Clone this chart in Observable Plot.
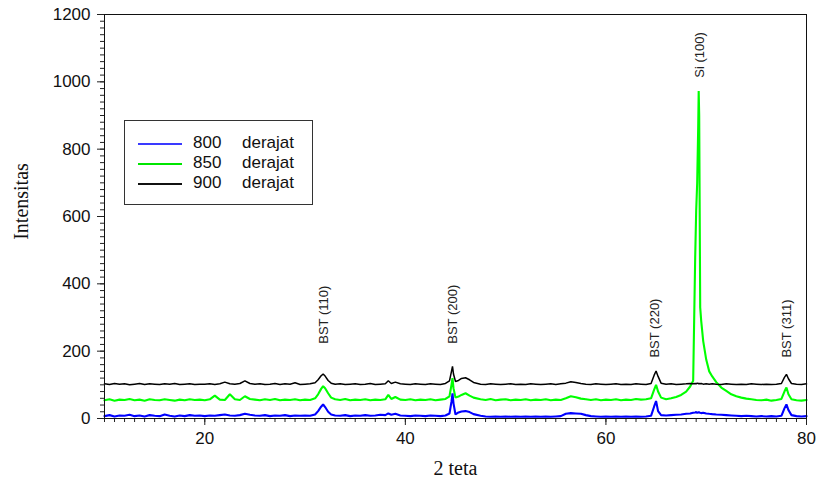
<!DOCTYPE html>
<html>
<head>
<meta charset="utf-8">
<script src="https://cdn.jsdelivr.net/npm/d3@7"></script>
<script src="https://cdn.jsdelivr.net/npm/@observablehq/plot@0.6"></script>
<style>
  html, body { margin: 0; padding: 0; background: #fff; }
  #wrap { position: relative; width: 816px; height: 487px; }
  #legend { position: absolute; left: 124px; top: 120px; width: 189px; height: 85px;
            border: 1px solid #333; background: #fff; box-sizing: border-box;
            font-family: "Liberation Sans", Arial, sans-serif; font-size: 17px; color: #111; }
  .lrow { position: absolute; left: 0; height: 20px; width: 100%; }
  .lline { position: absolute; left: 13px; width: 44px; top: 10px; height: 2px; }
  .lnum { position: absolute; left: 68px; top: 0; line-height: 20px; }
  .lunit { position: absolute; left: 117px; top: 0; line-height: 20px; }
</style>
</head>
<body>
<div id="wrap"></div>
<script>
// ---- data ----
const twoTheta = [
  10,10.5,11,11.5,12,12.5,13,13.5,14,14.5,15,15.5,16,16.5,17,17.5,18,18.5,19,19.5,
  20,20.5,21,21.5,22,22.5,23,23.5,24,24.5,25,25.5,26,26.5,27,27.5,28,28.5,29,29.5,
  30,30.5,31,31.3,31.6,31.8,32,32.3,32.6,33,33.5,34,34.5,35,35.5,36,36.5,37,37.5,38,
  38.3,38.6,39,39.5,40,40.5,41,41.5,42,42.5,43,43.5,44,44.4,44.6,44.7,44.8,45,45.3,45.6,
  46,46.4,46.8,47.5,48,48.5,49,49.5,50,50.5,51,51.5,52,52.5,53,53.5,54,54.5,55,55.5,
  56,56.5,57,57.5,58,58.5,59,59.5,60,60.5,61,61.5,62,62.5,63,63.5,64,64.5,64.8,65,
  65.2,65.5,66,66.5,67,67.5,68,68.4,68.7,68.9,69,69.1,69.2,69.25,69.3,69.4,69.5,69.7,70,70.3,
  70.6,71,71.5,72,72.5,73,73.5,74,74.5,75,75.5,76,76.5,77,77.5,77.8,78,78.2,78.5,79,
  79.5,80
];
const int800 = [
  7,10,6,9,8,11,7,9,6,10,8,7,12,8,6,9,7,10,8,9,
  7,9,8,10,12,9,8,10,14,11,9,8,10,7,9,8,10,7,9,8,
  9,8,12,22,35,42,34,20,12,9,8,10,7,9,8,10,8,9,11,10,
  15,11,14,9,8,7,9,8,7,9,8,7,9,15,50,75,45,12,18,21,
  22,19,13,8,6,5,6,5,6,5,6,5,6,5,6,5,6,5,6,7,
  14,16,15,14,10,7,6,5,6,5,6,5,6,5,6,5,6,8,35,52,
  22,10,9,10,11,12,14,15,17,18,19,17,18,20,18,17,16,17,15,14,
  13,12,11,10,9,8,7,8,7,6,7,6,7,6,8,30,42,25,10,7,
  6,7
];
const int850 = [
  54,57,53,56,55,58,54,56,53,57,55,54,57,55,53,56,54,57,55,56,
  54,57,68,56,55,72,57,55,66,58,56,54,57,55,58,54,56,55,57,54,
  56,55,60,72,88,96,90,75,62,57,55,58,54,56,55,57,54,56,55,57,
  70,58,64,56,55,57,54,56,55,57,54,56,58,66,100,120,90,62,65,70,
  75,68,62,57,55,58,54,56,57,54,56,55,57,54,56,55,57,54,56,55,
  60,66,63,59,57,55,57,54,56,55,57,54,56,55,58,56,57,60,85,100,
  80,62,57,60,64,70,80,95,112,478,617,700,864,973,900,330,290,230,175,140,
  125,108,92,82,72,66,62,59,57,55,54,56,53,55,58,80,92,72,57,54,
  53,55
];
const int900 = [
  103,101,104,102,103,100,102,104,101,103,102,101,103,102,104,101,102,103,101,102,
  102,103,101,103,108,103,102,104,112,104,102,103,101,102,104,101,103,102,106,101,
  102,103,106,115,127,132,126,113,105,102,103,101,102,103,101,102,104,101,102,103,
  112,104,108,103,102,101,103,102,101,103,102,101,104,112,140,155,132,110,113,119,
  121,115,107,102,101,103,102,101,102,103,101,102,101,103,102,101,102,103,101,103,
  105,109,107,104,102,101,103,102,101,102,103,101,102,101,103,102,101,104,128,141,
  125,105,102,103,101,102,103,104,103,104,103,105,104,103,104,103,104,102,103,102,
  103,102,101,103,102,101,102,101,103,102,101,102,101,102,104,122,131,118,104,102,
  101,103
];
const seriesNames = ["800", "850", "900"];
const seriesUnit = "derajat";
const seriesColors = ["#0000ff", "#00ff00", "#000000"];
const legendColors = ["#3a3aff", "#00e600", "#111111"];

const peakLabels = ["BST (110)", "BST (200)", "BST (220)", "Si (100)", "BST (311)"];
const peakX = [31.9, 44.7, 64.9, 69.35, 78.0];
const peakY = [222, 222, 181, 1012, 181];

const xTicks = [20, 40, 60, 80];
const yTicks = [0, 200, 400, 600, 800, 1000, 1200];
const xTitle = "2 teta";
const yTitle = "Intensitas";

// ---- tables ----
const seriesValues = [int800, int850, int900];
const curves = seriesNames.map((name, k) =>
  twoTheta.map((x, i) => ({x, y: seriesValues[k][i], series: name})));
const peaks = peakLabels.map((t, i) => ({text: t, x: peakX[i], y: peakY[i]}));

const drawOrder = [1, 0, 2];
const lineMarks = drawOrder.map(k =>
  Plot.line(curves[k], {x: "x", y: "y", stroke: seriesColors[k],
    strokeWidth: k === 2 ? 1.5 : 2.1, strokeLinejoin: "miter", curve: "linear"}));

const chart = Plot.plot({
  width: 816,
  height: 487,
  marginLeft: 104,
  marginRight: 10,
  marginTop: 14,
  marginBottom: 69,
  style: {fontFamily: "'Liberation Sans', Arial, sans-serif", fontSize: "17px", color: "#111", background: "#fff", overflow: "visible"},
  x: {domain: [10, 80]},
  y: {domain: [0, 1200]},
  marks: [
    ...lineMarks,
    Plot.text(peaks, {x: "x", y: "y", text: "text", rotate: -90, textAnchor: "start",
      lineAnchor: "middle", fontSize: 13, fill: "#222",
      fontFamily: "'Liberation Sans', Arial, sans-serif"}),
    Plot.axisY(d3.range(0, 1201, 20), {tickSize: 4, tickFormat: () => "", label: null, stroke: "#222"}),
    Plot.axisY(yTicks, {tickSize: 7, tickPadding: 7, fontSize: 17, label: null, stroke: "#222", tickFormat: d => String(d)}),
    Plot.axisX(d3.range(10, 81, 1), {tickSize: 4, tickFormat: () => "", label: null, stroke: "#222"}),
    Plot.axisX(xTicks, {tickSize: 7, tickPadding: 6, fontSize: 17, label: null, stroke: "#222", tickFormat: d => String(d)}),
    Plot.text([yTitle], {frameAnchor: "left", rotate: -90, dx: -83, dy: -15,
      textAnchor: "middle", lineAnchor: "middle", fontSize: 20, fill: "#111",
      fontFamily: "'Liberation Serif', 'Times New Roman', serif", ariaLabel: "axis-title"}),
    Plot.text([xTitle], {frameAnchor: "bottom", dy: 50, textAnchor: "middle",
      lineAnchor: "middle", fontSize: 20, fill: "#111",
      fontFamily: "'Liberation Serif', 'Times New Roman', serif", ariaLabel: "axis-title"}),
    Plot.frame({stroke: "#111", strokeWidth: 1})
  ]
});

// condense the serif axis titles like the reference
chart.querySelectorAll('g[aria-label="axis-title"] text').forEach(t => {
  const tr = t.getAttribute("transform") || "";
  t.setAttribute("transform", tr + " scale(0.75,1)");
});

const wrap = document.getElementById("wrap");
wrap.appendChild(chart);

// legend
const legend = document.createElement("div");
legend.id = "legend";
seriesNames.forEach((name, k) => {
  const row = document.createElement("div");
  row.className = "lrow";
  row.style.top = (12 + k * 20) + "px";
  const ln = document.createElement("div");
  ln.className = "lline";
  ln.style.backgroundColor = legendColors[k];
  const num = document.createElement("span");
  num.className = "lnum"; num.textContent = name;
  const unit = document.createElement("span");
  unit.className = "lunit"; unit.textContent = seriesUnit;
  row.append(ln, num, unit);
  legend.appendChild(row);
});
wrap.appendChild(legend);
</script>
</body>
</html>
